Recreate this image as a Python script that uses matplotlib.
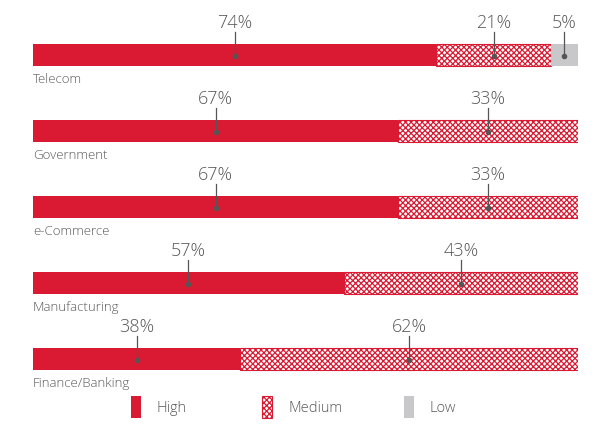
import matplotlib
matplotlib.use("Agg")
import matplotlib.pyplot as plt
from matplotlib.patches import Rectangle

plt.rcParams['font.family'] = ['Open Sans', 'DejaVu Sans']
plt.rcParams['hatch.linewidth'] = 0.9

categories = ["Telecom", "Government", "e-Commerce", "Manufacturing", "Finance/Banking"]
high = [74, 67, 67, 57, 38]
medium = [21, 33, 33, 43, 62]
low = [5, 0, 0, 0, 0]
legend_labels = ["High", "Medium", "Low"]

red = "#DA1A32"
grey = "#C8C8CA"
txt = "#595959"
hatch = "xxxxxx"

fig = plt.figure(figsize=(6.12, 4.39), dpi=100)
ax = fig.add_axes([33 / 612, 0, 545 / 612, 1])
ax.set_xlim(0, 100)
# one row = 76 px, first bar centred at 56 px from top
ax.set_ylim((439 - 56) / 76, -56 / 76)
ax.axis('off')

h = 22 / 76
for i, cat in enumerate(categories):
    ax.barh(i, high[i], height=h, color=red, linewidth=0)
    ax.barh(i, medium[i], left=high[i], height=h, facecolor="white",
            edgecolor=red, hatch=hatch, linewidth=0.8)
    if low[i]:
        ax.barh(i, low[i], left=high[i] + medium[i], height=h, color=grey, linewidth=0)

    starts = [0, high[i], high[i] + medium[i]]
    for s, v in zip(starts, [high[i], medium[i], low[i]]):
        if not v:
            continue
        cx = s + v / 2
        ax.plot([cx, cx], [i - 23 / 76, i + 1 / 76], color="#555555", lw=0.9)
        ax.plot(cx, i + 1 / 76, 'o', color="#555555", ms=3)
        ax.text(cx, i - 28 / 76, f"{v}%", ha='center', va='baseline',
                fontsize=13, color=txt, fontweight='light')
    ax.text(0, i + 27 / 76, cat, ha='left', va='baseline', fontsize=9.5,
            color=txt, fontweight='light')

# legend drawn by hand, positions in figure pixels
W, H = 612, 439
styles = [dict(facecolor=red, edgecolor=red, linewidth=0),
          dict(facecolor="white", edgecolor=red, hatch=hatch, linewidth=0.8),
          dict(facecolor=grey, edgecolor=grey, linewidth=0)]
for x0, lab, st in zip([131, 262, 404], legend_labels, styles):
    fig.add_artist(Rectangle((x0 / W, 1 - 419 / H), 10 / W, 22 / H,
                             transform=fig.transFigure, **st))
    fig.text((x0 + 26) / W, 1 - 409 / H, lab, ha='left', va='center',
             fontsize=10.5, color=txt, fontweight='light')

fig.savefig("out.png", dpi=100)
